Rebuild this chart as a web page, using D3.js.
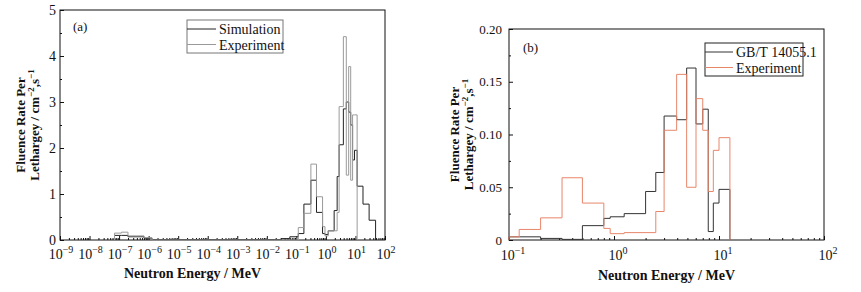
<!DOCTYPE html>
<html>
<head>
<meta charset="utf-8">
<script src="https://cdn.jsdelivr.net/npm/d3@7"></script>
<style>
  body { margin: 0; background: #fff; }
  svg text { font-family: "Liberation Serif", "Times New Roman", serif; fill: #111; }
  .tick line { stroke: #111; }
</style>
</head>
<body>
<svg id="chart" width="861" height="292"></svg>
<script>
"use strict";

/* ---- panel (a): neutron spectra, bin edges in MeV ---- */
const simEdgesA = [7e-8, 1.2e-7, 2e-7, 7e-7, 1.3e-6, 0.03, 0.06, 0.116, 0.18, 0.31, 0.48, 0.77, 0.93,
  1.2, 1.9, 2.4, 2.8, 3.9, 4.9, 5.9, 6.9, 8.0, 9.3, 11.4, 18, 29, 48];
const simValuesA = [0.10, 0.10, 0.07, 0.04, 0.01, 0.03, 0.07, 0.14, 0.78, 1.30, 0.60, 0.14, 0.12,
  0.20, 0.64, 1.38, 2.07, 2.85, 3.00, 2.78, 2.50, 1.74, 1.95, 1.17, 0.78, 0.43];
const expEdgesA = [7e-8, 1.2e-7, 2e-7, 7e-7, 1.3e-6, 0.116, 0.18, 0.31, 0.48, 0.77, 0.93,
  1.2, 1.9, 2.4, 2.8, 3.9, 4.9, 5.9, 6.9, 8.0, 9.3, 11.4];
const expValuesA = [0.15, 0.17, 0.09, 0.05, 0.0, 0.27, 0.58, 1.65, 0.94, 0.29, 0.09,
  0.20, 0.20, 0.60, 2.90, 4.42, 1.41, 3.77, 1.30, 2.72, 2.72];
const yTicksA = [0, 1, 2, 3, 4, 5];
const decadesA = d3.range(-9, 3);

/* ---- panel (b) ---- */
const gbEdgesB = [0.1, 0.125, 0.2, 0.32, 0.5, 0.8, 0.92, 1.25, 2.0, 2.5, 3.0, 3.95, 4.92, 6.04, 7.0, 7.9, 8.83, 10, 12.7];
const gbValuesB = [0.003, 0.003, 0.0015, 0.0006, 0.0136, 0.0205, 0.022, 0.025, 0.046, 0.064, 0.1175, 0.114,
  0.163, 0.110, 0.124, 0.008, 0.035, 0.048];
const expEdgesB = [0.1, 0.125, 0.2, 0.32, 0.5, 0.8, 0.92, 1.25, 2.5, 3.0, 3.95, 4.92, 6.04, 7.0, 7.9, 8.83, 10, 12.7];
const expValuesB = [0.003, 0.010, 0.021, 0.059, 0.035, 0.011, 0.006, 0.007, 0.027, 0.104, 0.157, 0.050,
  0.134, 0.104, 0.046, 0.085, 0.097];
const yTicksB = [0, 0.05, 0.10, 0.15, 0.20];
const yLabelsB = ["0", "0.05", "0.10", "0.15", "0.20"];
const decadesB = [-1, 0, 1, 2];

const svg = d3.select("#chart");

/* Turn bin edges + values into the points of a step outline */
function stepPoints(edges, values) {
  let pts = [[edges[0], 0]];
  values.forEach(function(v, i) {
    pts.push([edges[i], v]);
    pts.push([edges[i + 1], v]);
  });
  pts.push([edges[edges.length - 1], 0]);
  return pts;
}

/* Minor tick values 2..9 inside every decade */
function minorTicks(lo, hi) {
  let out = [];
  for (let d = lo; d < hi; d++) {
    for (let m = 2; m <= 9; m++) out.push(m * Math.pow(10, d));
  }
  return out;
}

function drawPanel(o) {
  let g = svg.append("g");

  let x = d3.scaleLog().domain(o.xDomain).range([o.left, o.right]),
      y = d3.scaleLinear().domain(o.yDomain).range([o.bottom, o.top]);

  /* x ticks (inward) */
  g.append("g")
      .attr("transform", "translate(0," + o.bottom + ")")
      .call(d3.axisBottom(x).tickValues(o.minorX).tickSize(-2).tickFormat(""))
      .call(s => s.select(".domain").remove());
  g.append("g")
      .attr("transform", "translate(0," + o.bottom + ")")
      .call(d3.axisBottom(x).tickValues(o.decades.map(d => Math.pow(10, d))).tickSize(-4).tickFormat(""))
      .call(s => s.select(".domain").remove());

  /* decade labels 10^n */
  let lab = g.selectAll(".xlab")
      .data(o.decades)
      .enter().append("text")
      .attr("class", "xlab")
      .attr("x", d => x(Math.pow(10, d)) + o.xLabelShift)
      .attr("y", o.xLabelY)
      .attr("text-anchor", "middle")
      .style("font-size", "14px");
  lab.append("tspan").text("10");
  lab.append("tspan")
      .attr("dy", -6)
      .style("font-size", "10px")
      .text(d => String(d).replace("-", "\u2212"));

  /* y ticks (inward) */
  g.append("g")
      .attr("transform", "translate(" + o.left + ",0)")
      .call(d3.axisLeft(y).tickValues(o.minorY).tickSize(-2).tickFormat(""))
      .call(s => s.select(".domain").remove());
  g.append("g")
      .attr("transform", "translate(" + o.left + ",0)")
      .call(d3.axisLeft(y).tickValues(o.yTicks).tickSize(-4).tickPadding(o.yPad)
          .tickFormat((d, i) => o.yLabels ? o.yLabels[i] : d))
      .call(s => s.select(".domain").remove())
      .call(s => s.selectAll("text").style("font-size", o.yFont).style("font-family", "Liberation Serif"));

  /* frame */
  g.append("rect")
      .attr("x", o.left).attr("y", o.top)
      .attr("width", o.right - o.left).attr("height", o.bottom - o.top)
      .attr("fill", "none").attr("stroke", "#111").attr("stroke-width", 1);

  /* histograms */
  let line = d3.line().x(d => x(d[0])).y(d => y(d[1]));
  o.series.forEach(function(s) {
    g.append("path")
        .datum(stepPoints(s.edges, s.values))
        .attr("d", line)
        .attr("fill", "none")
        .attr("stroke", s.color)
        .attr("stroke-width", 1);
  });

  /* legend */
  let lg = o.legend;
  g.append("rect")
      .attr("x", lg.x).attr("y", lg.y).attr("width", lg.w).attr("height", lg.h)
      .attr("fill", "#fff").attr("stroke", lg.border).attr("stroke-width", 1);
  o.series.forEach(function(s, i) {
    let ly = lg.y + 9 + i * 15.5;
    g.append("line")
        .attr("x1", lg.x).attr("x2", lg.x + lg.lineLen)
        .attr("y1", ly).attr("y2", ly)
        .attr("stroke", s.color).attr("stroke-width", 1);
    g.append("text")
        .attr("x", lg.x + lg.lineLen + 3)
        .attr("y", ly + 5)
        .style("font-size", "14px")
        .text(s.name);
  });

  /* panel tag */
  g.append("text")
      .attr("x", o.tag[0]).attr("y", o.tag[1])
      .style("font-size", "13px")
      .text(o.tagText);

  /* axis titles */
  g.append("text")
      .attr("x", (o.left + o.right) / 2 + o.xTitleShift)
      .attr("y", o.xTitleY)
      .attr("text-anchor", "middle")
      .style("font-size", "14px").style("font-weight", "bold")
      .text("Neutron Energy / MeV");

  let cy = (o.top + o.bottom) / 2;
  let yt = g.append("text")
      .attr("transform", "translate(" + o.yTitleX + "," + cy + ") rotate(-90)")
      .attr("text-anchor", "middle")
      .style("font-size", "13px").style("font-weight", "bold");
  yt.append("tspan").attr("x", 0).attr("dy", 0).text("Fluence Rate Per");
  let l2 = yt.append("tspan").attr("x", 0).attr("dy", 14);
  l2.append("tspan").text("Lethargey / cm");
  l2.append("tspan").attr("dy", -5).style("font-size", "9px").text("\u22122");
  l2.append("tspan").attr("dy", 5).text(",s");
  l2.append("tspan").attr("dy", -5).style("font-size", "9px").text("\u22121");
}

drawPanel({
  left: 60, right: 385, top: 10, bottom: 240,
  xDomain: [1e-9, 1e2], yDomain: [0, 5],
  decades: decadesA, minorX: minorTicks(-9, 2), xLabelShift: 1,
  yTicks: yTicksA, minorY: [0.5, 1.5, 2.5, 3.5, 4.5], yFont: "14px", yPad: 4,
  xLabelY: 259, xTitleY: 278, xTitleShift: -30, yTitleX: 25,
  series: [
    {name: "Simulation", edges: simEdgesA, values: simValuesA, color: "#222"},
    {name: "Experiment", edges: expEdgesA, values: expValuesA, color: "#9a9a9a"}
  ],
  legend: {x: 187, y: 20, w: 96, h: 33, lineLen: 29, border: "#777"},
  tag: [73, 31], tagText: "(a)"
});

drawPanel({
  left: 509, right: 824, top: 29, bottom: 240,
  xDomain: [0.1, 100], yDomain: [0, 0.2],
  decades: decadesB, minorX: minorTicks(-1, 2), xLabelShift: 4,
  yTicks: yTicksB, yLabels: yLabelsB, minorY: [0.025, 0.075, 0.125, 0.175], yFont: "13px", yPad: 7,
  xLabelY: 260, xTitleY: 280, xTitleShift: 0, yTitleX: 459,
  series: [
    {name: "GB/T 14055.1", edges: gbEdgesB, values: gbValuesB, color: "#333"},
    {name: "Experiment", edges: expEdgesB, values: expValuesB, color: "#e8866a"}
  ],
  legend: {x: 705, y: 43, w: 98, h: 33, lineLen: 28, border: "#222"},
  tag: [523, 52], tagText: "(b)"
});
</script>
</body>
</html>
